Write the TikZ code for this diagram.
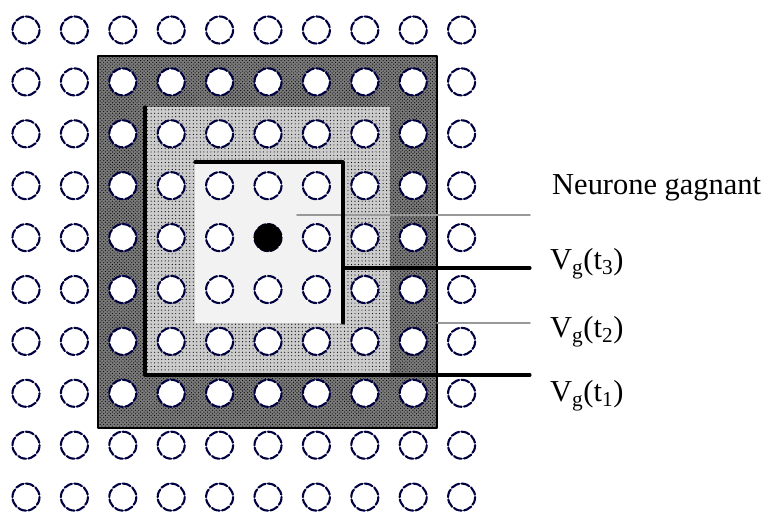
\documentclass[tikz,border=0pt]{standalone}
\usepackage{fontspec}
\setmainfont{Liberation Serif}
\usetikzlibrary{patterns}
\begin{document}
\begin{tikzpicture}[x=0.03cm,y=-0.03cm,line cap=round,line join=round,font=\fontsize{26}{31}\selectfont]
	\useasboundingbox (0,0) rectangle (772,514);
	\def\dx{48.4}\def\dy{51.9}
	\tikzset{neurone/.pic={\draw[fill=white,draw=blue!25!black,line width=1.8pt,dash pattern=on 7pt off 2pt] (0,0) circle (13.5);},
		lbl/.style={anchor=base west,inner sep=0pt},
		trait/.style={line width=2.7pt},
		guide/.style={line width=1.3pt,black!40}}
	% voisinages
	\fill[black!52] (98,56) rectangle (437,428);\fill[pattern=crosshatch dots] (98,56) rectangle (437,428);
	\fill[black!20] (145,107) rectangle (390,375);\fill[pattern=dots] (145,107) rectangle (390,375);
	\fill[black!5] (195,162) rectangle (343,323);
	\draw[line width=1.4pt] (98,56) rectangle (437,428);
	% neurones
	\foreach \i in{0,...,9}{\foreach \j in{0,...,9}{\pic at(26+\i*\dx,30+\j*\dy) {neurone};}}
	\fill (26+5*\dx,30+4*\dy) circle (14);
	% textes
	\node[lbl] (ng) at (552,195) {Neurone gagnant};
	\node[lbl] (t3) at (550,270) {V\textsubscript{g}(t\textsubscript{3})};
	\node[lbl] (t2) at (550,338) {V\textsubscript{g}(t\textsubscript{2})};
	\node[lbl] (t1) at (550,402) {V\textsubscript{g}(t\textsubscript{1})};
	% traits
	\coordinate (g0) at (297,215);\coordinate (g1) at (530,215);
	\coordinate (a0) at (195,162);\coordinate (a1) at (343,162);\coordinate (a2) at (343,323);\coordinate (a3) at (343,268);\coordinate (a4) at (530,268);
	\coordinate (b0) at (437,323);\coordinate (b1) at (530,323);
	\coordinate (c0) at (145,107);\coordinate (c1) at (145,375);\coordinate (c2) at (530,375);
	\draw[guide] (g0) -- (g1);\draw[guide] (b0) -- (b1);
	\draw[trait] (a0) -- (a1) -- (a2);\draw[trait] (a3) -- (a4);
	\draw[trait] (c0) -- (c1) -- (c2);
\end{tikzpicture}
\end{document}
